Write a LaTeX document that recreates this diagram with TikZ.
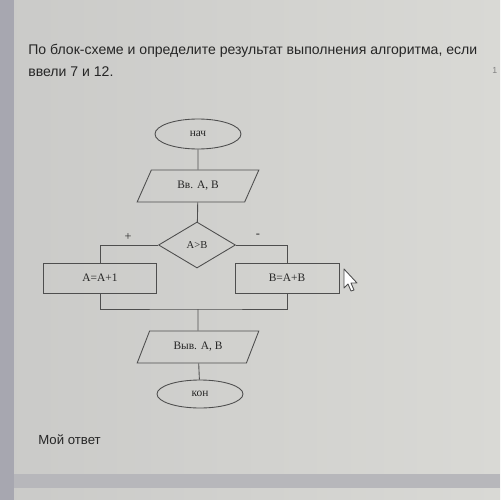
\documentclass[tikz,border=0pt]{standalone}
\usepackage{fontspec}
\setmainfont{Liberation Sans}
\newfontfamily\blockfont{Liberation Serif}
\usetikzlibrary{shapes.geometric}
\definecolor{screenclr}{HTML}{D9D9D5}
\definecolor{screendark}{HTML}{CACAC8}
\definecolor{edgeclr}{HTML}{A7A7B0}
\definecolor{lineclr}{HTML}{4E4E4E}
\definecolor{textclr}{HTML}{262626}

\begin{document}
\begin{tikzpicture}[x=0.02cm, y=-0.02cm,
       line/.style = {draw=lineclr, line width=0.5pt},
   terminal/.style = {ellipse, line, inner sep=0pt, minimum width=1.72cm,
                      minimum height=0.6cm, text=textclr,
                      font=\blockfont\fontsize{6.5}{7}\selectfont},
     iobox/.style = {trapezium, trapezium left angle=56, trapezium right angle=124,
                      trapezium stretches=true, line, inner sep=0pt,
                      minimum width=2.44cm, minimum height=0.64cm, text=textclr,
                      font=\blockfont\fontsize{6.5}{7}\selectfont},
    actbox/.style = {rectangle, line, inner sep=0pt, minimum height=0.6cm,
                      text=textclr, font=\blockfont\fontsize{6.5}{7}\selectfont},
   condbox/.style = {diamond, line, inner sep=0pt, minimum width=1.54cm,
                      minimum height=0.92cm, text=textclr,
                      font=\blockfont\fontsize{6}{7}\selectfont},
     brlab/.style = {text=textclr, font=\blockfont\fontsize{7}{8}\selectfont, inner sep=0pt}
                    ]
\useasboundingbox (0,0) rectangle (500,500);
% screen photo background
\shade[left color=screendark, right color=screenclr] (0,0) rectangle (500,500);
\fill[edgeclr] (0,0) rectangle (14,500);
\fill[edgeclr!55!screendark] (14,474) rectangle (500,488);
% question text
\node (title1) [anchor=base west, text=textclr, font=\fontsize{8}{10}\selectfont, inner sep=0pt]
    at (28,55) {По блок-схеме и определите результат выполнения алгоритма, если};
\node (title2) [anchor=base west, text=textclr, font=\fontsize{8}{10}\selectfont, inner sep=0pt]
    at (28,77) {ввели 7 и 12.};
\node (page) [anchor=base west, text=gray, font=\fontsize{5}{6}\selectfont, inner sep=0pt]
    at (492,73) {1};
% flowchart
\node (nach) [terminal] at (198,134) {нач};
\node (vvod) [iobox] at (198,186) {Вв. А, В};
\node (usl) [condbox] at (197,245) {А>В};
\node (levo) [actbox, minimum width=2.26cm] at (100,278) {А=А+1};
\node (pravo) [actbox, minimum width=2.08cm] at (287,278) {В=А+В};
\coordinate (sliv) at (198,309);
\node (vyvod) [iobox] at (198,347) {Выв. А, В};
\node (kon) [terminal, minimum height=0.56cm] at (200,394) {кон};
\node (plus) [brlab] at (128,237) {+};
\node (minus) [brlab] at (258,236) {-};
\draw[line] (nach) -- (vvod);
\draw[line] (vvod) -- (usl);
\draw[line] (usl.west) -| (levo.north);
\draw[line] (usl.east) -| (pravo.north);
\draw[line] (levo.south) |- (sliv) -| (pravo.south);
\draw[line] (sliv) -- (vyvod);
\draw[line] (vyvod) -- (kon);
% mouse pointer
\draw[lineclr, fill=white, line width=0.5pt, line join=round]
    (344,269) -- (344,288) -- (348,284) -- (351,291) -- (354,290) -- (351,283) -- (357,283) -- cycle;
% answer field
\node (otvet) [anchor=base west, text=textclr, font=\fontsize{7.5}{9}\selectfont, inner sep=0pt]
    at (38,444) {Мой ответ};
\end{tikzpicture}
\end{document}
